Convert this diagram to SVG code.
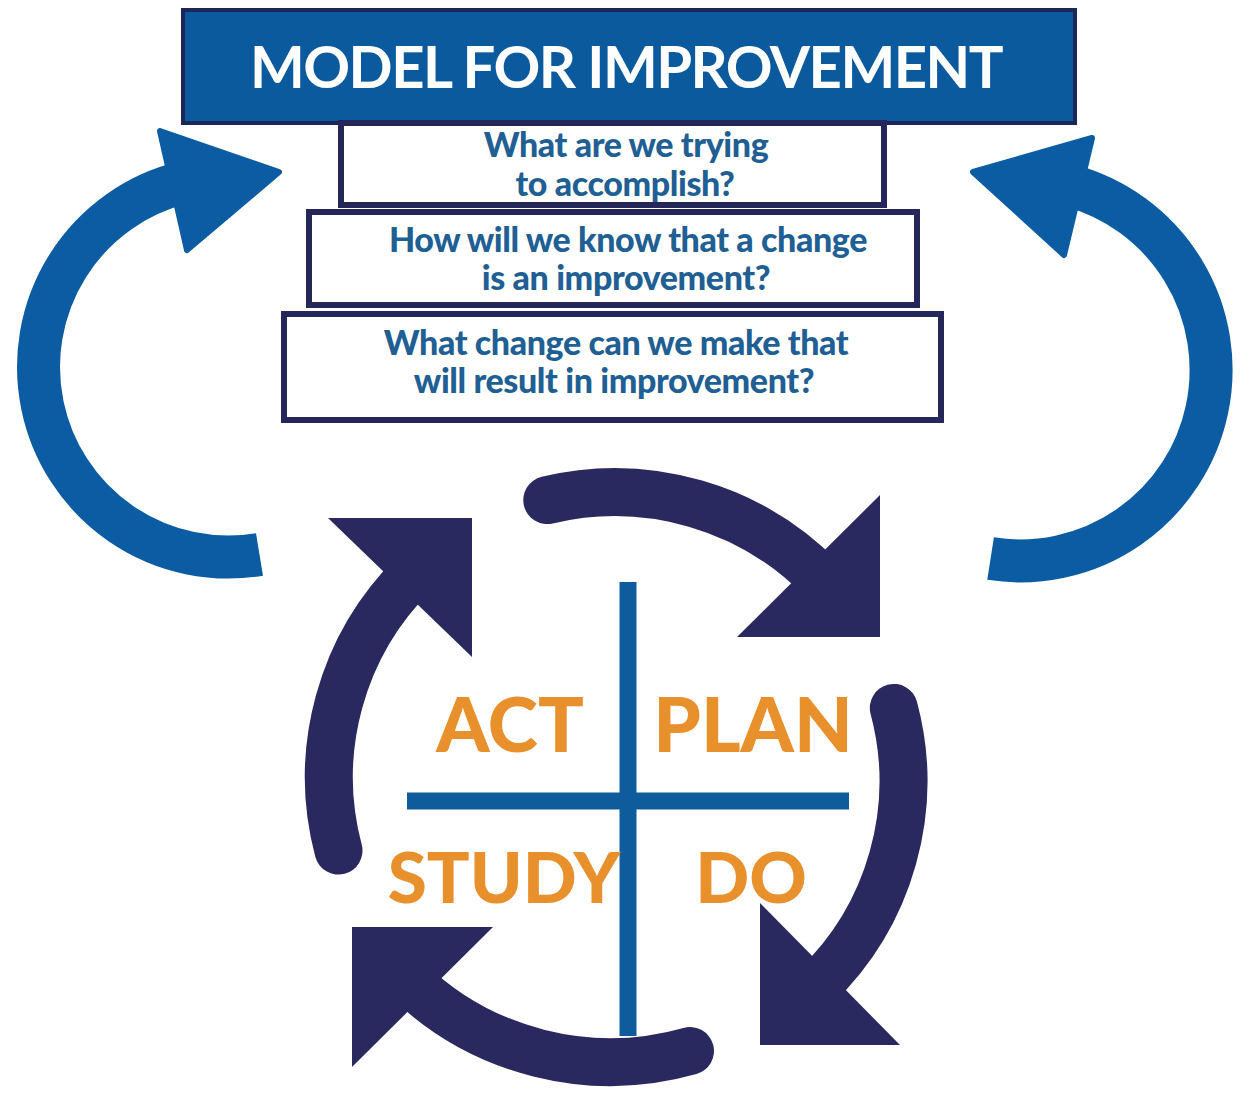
<svg xmlns="http://www.w3.org/2000/svg" width="1250" height="1095" viewBox="0 0 1250 1095">
  <style>
    .title { font-family: Lato, "Liberation Sans", sans-serif; font-weight: 700; font-size: 58px; letter-spacing: -1.5px; fill: #ffffff; text-anchor: middle; }
    .q { font-family: Lato, "Liberation Sans", sans-serif; font-weight: 900; font-size: 34px; letter-spacing: -0.4px; fill: #1f5f93; text-anchor: middle; }
    .qbox { fill: #ffffff; stroke: #25275a; stroke-width: 6; }
    .pdsa { font-family: Lato, "Liberation Sans", sans-serif; font-weight: 900; font-size: 71px; fill: #e8902c; text-anchor: middle; }
    .big { font-size: 76px; }
    .bigarc { fill: none; stroke: #0b5ca2; stroke-width: 43; }
    .bighead { fill: #0b5ca2; stroke: #0b5ca2; stroke-width: 6; stroke-linejoin: round; }
    .cyc { fill: none; stroke: #29295f; stroke-width: 48; stroke-linecap: round; }
    .cychead { fill: #29295f; }
    .cross { stroke: #0e5c9c; stroke-width: 17; }
  </style>
  <rect width="1250" height="1095" fill="#ffffff"/>

  <g id="connectors">
    <path class="bigarc" d="M259.5,554.5 A190,190 0 0 1 182.5,182.7"/>
    <polygon class="bighead" points="160,131 279,172 187,250"/>
    <path class="bigarc" d="M990.6,558.6 A191,191 0 0 0 1069.9,185.5"/>
    <polygon class="bighead" points="1092,138 973,172 1064,255"/>

    <path class="cyc" d="M547.3,500.1 A288,286 0 0 1 822.2,579.9"/>
    <polygon class="cychead" points="880,495 880,637 737,637"/>
    <path class="cyc" d="M893.8,707.9 A288,286 0 0 1 815.1,987.2"/>
    <polygon class="cychead" points="760,903 760,1045 900,1045"/>
    <path class="cyc" d="M690,1051 A288,283 0 0 1 407.8,980.1"/>
    <polygon class="cychead" points="352,927 493,927 352,1067"/>
    <path class="cyc" d="M338.5,850.6 A286,286 0 0 1 414.9,572.8"/>
    <polygon class="cychead" points="328,518 472,518 472,657"/>
  </g>

  <g id="title">
    <rect x="183" y="10" width="892" height="113" fill="#0c5a9e" stroke="#1c2757" stroke-width="4"/>
    <text class="title" x="626" y="88">MODEL FOR IMPROVEMENT</text>
  </g>

  <g id="q1">
    <rect class="qbox" x="341" y="123" width="543" height="82"/>
    <text class="q" x="626" y="157">What are we trying</text>
    <text class="q" x="625" y="196">to accomplish?</text>
  </g>
  <g id="q2">
    <rect class="qbox" x="309" y="212" width="608" height="93"/>
    <text class="q" x="628" y="252">How will we know that a change</text>
    <text class="q" x="626" y="290">is an improvement?</text>
  </g>
  <g id="q3">
    <rect class="qbox" x="284" y="314" width="657" height="106"/>
    <text class="q" x="616" y="355">What change can we make that</text>
    <text class="q" x="614" y="393">will result in improvement?</text>
  </g>

  <g id="cross">
    <line class="cross" x1="628" y1="582" x2="628" y2="1036"/>
    <line class="cross" x1="407" y1="801" x2="849" y2="801"/>
  </g>
  <g id="act"><text class="pdsa big" x="510" y="752">ACT</text></g>
  <g id="plan"><text class="pdsa big" x="753" y="752">PLAN</text></g>
  <g id="study"><text class="pdsa" x="504" y="903">STUDY</text></g>
  <g id="do"><text class="pdsa" x="751" y="903">DO</text></g>
</svg>
